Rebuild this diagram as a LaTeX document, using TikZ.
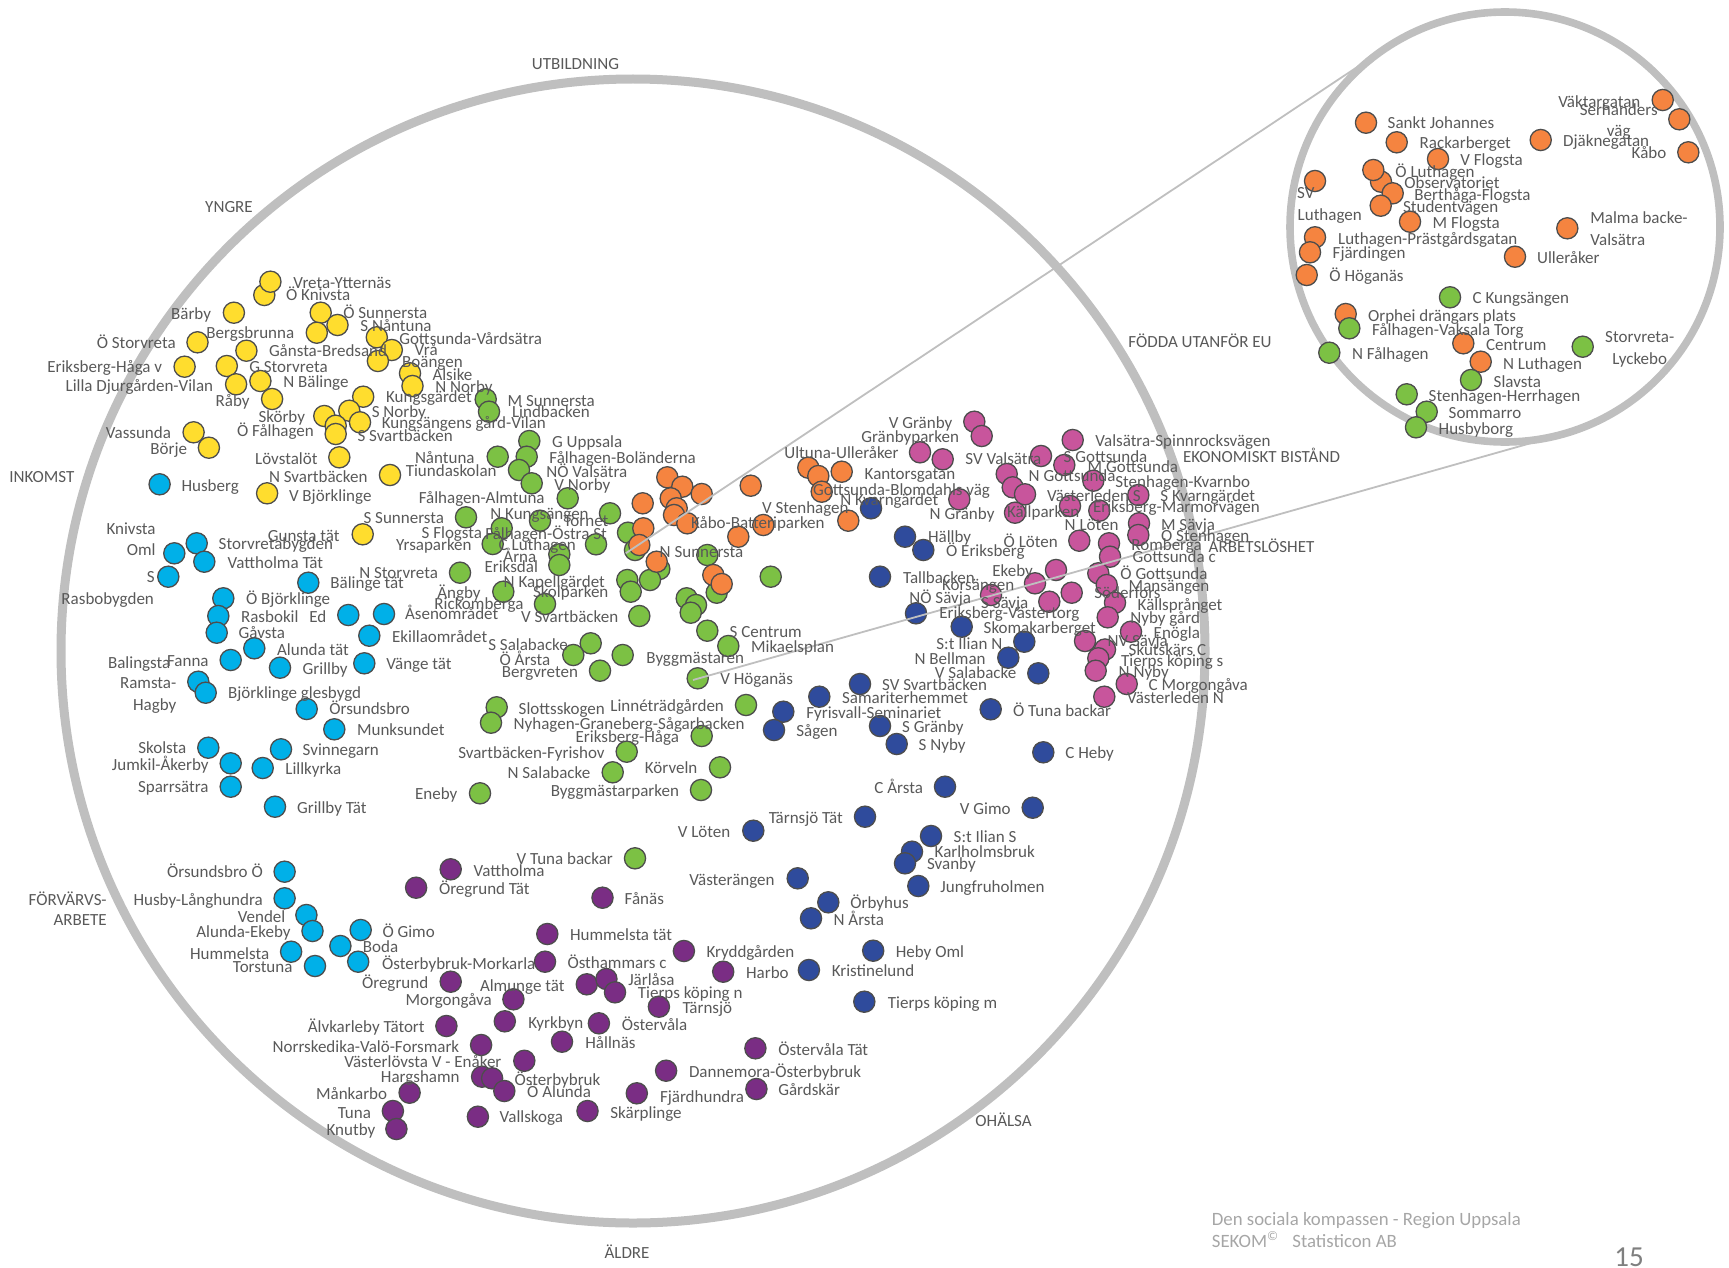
\documentclass[tikz,border=0pt]{standalone}
\usepackage{fontspec}
\setmainfont{Carlito}
\definecolor{cY}{HTML}{FFDD2E}
\definecolor{cC}{HTML}{00B0E8}
\definecolor{cG}{HTML}{7CC144}
\definecolor{cO}{HTML}{F58440}
\definecolor{cB}{HTML}{2F4B9C}
\definecolor{cK}{HTML}{C8559C}
\definecolor{cP}{HTML}{7A2D84}
\definecolor{cBd}{HTML}{4D4D4D}
\definecolor{cTx}{HTML}{595959}
\definecolor{cRing}{HTML}{BFBFBF}
\definecolor{cFoot}{HTML}{A6A6A6}
\definecolor{cNum}{HTML}{7F7F7F}
\begin{document}
\begin{tikzpicture}[x=0.5pt,y=-0.5pt,
  dot/.style={circle,draw=cBd,line width=0.65pt,minimum size=10.6pt,inner sep=0pt},
  lbl/.style={inner sep=0pt,text=cTx,font=\fontsize{8.5}{10}\selectfont,text height=5.6pt,text depth=0pt},
  ring/.style={draw=cRing,line width=4.5pt},
  zring/.style={draw=cRing,line width=3.8pt},
  zline/.style={draw=cRing,line width=0.9pt},
  foot/.style={inner sep=0pt,text=cFoot,font=\fontsize{9.4}{11}\selectfont,anchor=west,text height=6pt,text depth=0pt}]
\useasboundingbox (0,0) rectangle (1729,1268);

% rings
\coordinate (bigc) at (633,651);
\coordinate (zc) at (1505,227);
\draw[ring] (bigc) circle[radius=572];
\draw[zring] (zc) circle[radius=215];

% yellow
\foreach \x/\y [count=\i] in {264.3/295, 270.4/281.7, 233.9/312.7, 320.7/312.7, 337.5/325, 316.8/332.7, 197.5/342.3, 246.4/350.7, 376.8/337.3, 391.8/350, 377.9/361, 184.6/366.7, 226.8/366, 410/373.3, 412.5/386, 236.1/384.3, 260.4/381, 272.1/399, 363.2/396.7, 349.3/410.7, 324.3/416, 360/422.3, 335.7/425.7, 335.7/434, 193.6/432.3, 208.9/447.7, 339.3/457.3, 390/475, 267.1/493.3, 362.7/534.3}
  \node[dot,fill=cY] (dy\i) at (\x,\y) {};
% cyan
\foreach \x/\y [count=\i] in {159.6/484.3, 196.7/543.3, 174.3/553.3, 204.3/561.7, 168.3/576.7, 308.3/582.7, 223.3/598.3, 218.3/616, 348.3/615, 384/614, 216.7/632.7, 369.3/635.7, 254.3/648.3, 230.7/660, 280/667.7, 364.3/663.3, 198.3/681.7, 205.7/692.7, 306.7/709, 334.3/729.3, 208.3/747.7, 281/749.3, 230.7/763.3, 262.7/768, 230.7/786.7, 275/806.7, 284.6/871.7, 284.6/898.3, 306.4/915, 312.5/931, 360.7/930, 340.4/946, 291.1/951.7, 358.2/961.7, 315/966}
  \node[dot,fill=cC] (dc\i) at (\x,\y) {};
% green
\foreach \x/\y [count=\i] in {485.7/399.3, 489/411.7, 529.3/441, 526.7/456.7, 497.7/456.7, 519/470, 531.7/483.3, 567.7/498.3, 466/517.3, 540/520.7, 501.7/528.3, 492.7/544, 610/513.3, 596/544.3, 559.3/554.3, 559.3/565, 460/572.7, 503.3/591.7, 545/604, 639.3/616, 590.7/643.3, 573.3/655, 600/670.7, 622.7/655, 707.3/630.7, 728.3/646, 697.7/678.3, 628/532.7, 635/550, 659.3/569, 650/580, 627.3/580, 630.7/591.7, 707.3/555, 716.7/592.7, 686.7/598.3, 696/605, 690.7/612.7, 770.7/576.7, 496.7/707.3, 491/722.7, 746/705, 701.7/736, 626.7/751.7, 612.7/772.3, 720/767.3, 701/790, 480/793.3, 635/858.3}
  \node[dot,fill=cG] (dg\i) at (\x,\y) {};
% orange
\foreach \x/\y [count=\i] in {667.3/477.3, 682.3/486.7, 701.7/494, 750.7/485.7, 670.7/498.3, 642.7/503.3, 676.7/508.3, 674/515, 687.3/523.3, 643.3/528.3, 639.3/545, 738.3/536.7, 763.3/525, 656.7/561.7, 713.3/575, 721.7/584, 808.3/467.7, 818.3/476, 841.7/471.7, 821.7/491.7, 848.3/520.7}
  \node[dot,fill=cO] (do\i) at (\x,\y) {};
% dark blue
\foreach \x/\y [count=\i] in {871/508.3, 905/536.7, 923.3/550, 880/576.7, 916/613.3, 961.7/626.7, 1024.3/641.7, 1008.3/657.7, 1038.3/673.3, 860/684, 819.3/696.7, 783.3/711.7, 774/730, 990.7/709.3, 880/726, 896.7/744, 1043.3/752.3, 945/786.7, 1032.7/807.7, 865/816.7, 753.3/830.7, 931/836, 912/851.7, 905/863.3, 918.3/886, 797.7/878.3, 828.3/902.3, 811/918.3, 873.2/950.7, 808.9/970, 864.3/1001.7}
  \node[dot,fill=cB] (db\i) at (\x,\y) {};
% pink
\foreach \x/\y [count=\i] in {974.3/421.7, 981.7/436, 920/452.3, 942.7/459.3, 1072.7/440, 1041/456, 1064.3/465, 1006.7/474, 1093.3/480.7, 1012.7/487.3, 1025/494.3, 1138.3/495, 959.3/499.3, 1070/506, 1099.3/510.7, 1015/512.7, 1139/523.3, 1138.3/535, 1079.3/540.7, 1109/543.3, 1110/556.7, 1056/570, 1098.3/573.3, 1035/583.3, 1106.7/585, 1071.7/592.7, 991/595, 1049.3/601.7, 1115/602.7, 1107.7/617.3, 1131/631.7, 1085/641, 1105/649.5, 1098.3/658.3, 1095.7/670.7, 1126.7/684, 1104.3/696.7}
  \node[dot,fill=cK] (dk\i) at (\x,\y) {};
% purple
\foreach \x/\y [count=\i] in {450.7/869.3, 416.1/887.7, 602.5/897.7, 547.3/934, 545/961.7, 683.9/951, 723.2/971.7, 450.7/981.7, 586.8/984.3, 606.4/979, 615/992.3, 513.4/999.3, 504.8/1021.3, 446.4/1026, 658.9/1006.7, 598.9/1023.3, 562/1041.7, 481.1/1045, 755.4/1048.3, 524.3/1060.8, 666.1/1070.7, 482.1/1076.7, 492.1/1078.3, 504.3/1091, 756.4/1089, 636.8/1093.3, 409.6/1092.7, 392.9/1111, 396.4/1129, 477.9/1116.7, 587.5/1111}
  \node[dot,fill=cP] (dp\i) at (\x,\y) {};
% zoom circle dots
\foreach \x/\y [count=\i] in {1366/122.7, 1396.7/142.3, 1438/159, 1540.7/140, 1662.7/100, 1679.3/119.3, 1688.3/152.3, 1315/181, 1381/181.7, 1373.3/170, 1392.7/193.3, 1380.7/205.7, 1410/221.7, 1567.3/228.3, 1315/237.3, 1310/252.3, 1515/256.7, 1306.7/275, 1345.7/314, 1463.3/343.3, 1480.7/361.7}
  \node[dot,fill=cO] (dzo\i) at (\x,\y) {};
\foreach \x/\y [count=\i] in {1450/297.3, 1349.3/328.3, 1329.3/352.7, 1582.7/346.7, 1471/380, 1406.7/394.3, 1426.7/411.7, 1416/427.3}
  \node[dot,fill=cG] (dzg\i) at (\x,\y) {};

% connectors to the zoom circle
\coordinate (p1) at (625.7,553.3);
\coordinate (t1) at (1386.0,47.9);
\coordinate (p2) at (693,680);
\coordinate (t2) at (1563.5,433.9);
\draw[zline] (p1) -- (t1);
\draw[zline] (p2) -- (t2);

% labels
\foreach \x/\y/\a/\t [count=\i] in {
292.9/283.3/west/Vreta-Ytternäs, 285.7/295/west/Ö Knivsta, 211.4/314/east/Bärby, 342.9/313.3/west/Ö Sunnersta, 360/326/west/S Nåntuna, 294.6/333.3/east/Bergsbrunna, 176.1/343.3/east/Ö Storvreta, 268.6/350.7/west/Gånsta-Bredsand, 398.9/339/west/Gottsunda-Vårdsätra, 414.3/350/west/Vrå, 401.8/361.7/west/Boängen, 162.5/367.3/east/Eriksberg-Håga v, 248.9/366.7/west/G Storvreta, 432.1/375/west/Alsike, 435/387.3/west/N Norby, 213.6/386/east/Lilla Djurgården-Vilan, 282.9/382/west/N Bälinge, 250/400.7/east/Råby, 385.7/396.7/west/Kungsgärdet, 371.4/411.7/west/S Norby, 305.4/417.3/east/Skörby, 381.4/423.3/west/Kungsängens gård-Vilan, 314.3/430.7/east/Ö Fålhagen, 357.1/436/west/S Svartbäcken, 171.4/433.3/east/Vassunda, 187.5/449/east/Börje, 317.9/459/east/Lövstalöt, 405.4/470.7/west/Tiundaskolan, 268.6/477/west/N Svartbäcken, 288.6/495.7/west/V Björklinge, 340/535.7/east/Gunsta tät, 181.1/486/west/Husberg}
  \node[lbl,anchor=\a] (ly\i) at (\x,\y) {\t};
\foreach \x/\y/\a/\t [count=\i] in {
218.3/544.3/west/Storvretabygden, 156/529/east/Knivsta, 156/550/east/Oml, 227.3/562.7/west/Vattholma Tät, 155/577.3/east/S, 154.3/599/east/Rasbobygden, 330/583.3/west/Bälinge tät, 245.7/599.3/west/Ö Björklinge, 240.7/616.7/west/Rasbokil, 326.7/616.7/east/Ed, 404.7/614.2/west/Åsenområdet, 238.3/633.3/west/Gåvsta, 391.7/636.7/west/Ekillaområdet, 276.7/650/west/Alunda tät, 209/661/east/Fanna, 170.7/662.7/east/Balingsta, 302.3/669/west/Grillby, 386/664.3/west/Vänge tät, 176.7/683.3/east/Ramsta-, 176.7/705/east/Hagby, 227.7/692.7/west/Björklinge glesbygd, 329/709.3/west/Örsundsbro, 356.7/730/west/Munksundet, 186.7/748.3/east/Skolsta, 302.3/750/west/Svinnegarn, 209/765/east/Jumkil-Åkerby, 285/768.7/west/Lillkyrka, 209/787.3/east/Sparrsätra, 296.7/807.7/west/Grillby Tät, 263.2/872.3/east/Örsundsbro Ö, 263.2/900/east/Husby-Långhundra, 285.7/917.3/east/Vendel, 291.1/931.7/east/Alunda-Ekeby, 382.1/931.7/west/Ö Gimo, 362.5/946.7/west/Boda, 269.6/954/east/Hummelsta, 292.9/967.3/east/Torstuna}
  \node[lbl,anchor=\a] (lc\i) at (\x,\y) {\t};
\foreach \x/\y/\a/\t [count=\i] in {
507.3/400.7/west/M Sunnersta, 511.7/411.7/west/Lindbacken, 551.7/442.3/west/G Uppsala, 549/457.7/west/Fålhagen-Boländerna, 475/457.7/east/Nåntuna, 546/471.7/west/NÖ Valsätra, 554/485/west/V Norby, 545/498.3/east/Fålhagen-Almtuna, 490/514/west/N Kungsängen, 444.4/518.3/east/S Sunnersta, 563.3/520.7/west/Tornet, 485/533.5/west/Fålhagen-Östra St, 482.5/533/east/S Flogsta, 472/544.7/east/Yrsaparken, 498.3/545/west/C Luthagen, 536.7/556.7/east/Årna, 538.3/566.7/east/Eriksdal, 438.3/573.3/east/N Storvreta, 503.3/581.7/west/N Kapellgärdet, 481/592.7/east/Ängby, 532.6/592.2/west/Skolparken, 523.8/604.3/east/Rickomberga, 618.6/616.4/east/V Svartbäcken, 568.3/645/east/S Salabacke, 550.7/660/east/Ö Årsta, 578.3/671.7/east/Bergvreten, 646/658/west/Byggmästaren, 729.3/632.3/west/S Centrum, 750.7/647.3/west/Mikaelsplan, 720/679/west/V Höganäs, 518.3/709/west/Slottsskogen, 513.3/724/west/Nyhagen-Graneberg-Sågarbacken, 724.3/706/east/Linnéträdgården, 679.3/737.3/east/Eriksberg-Håga, 605/753.3/east/Svartbäcken-Fyrishov, 590.7/772.7/east/N Salabacke, 697.7/767.7/east/Körveln, 679.3/791/east/Byggmästarparken, 457.7/794.3/east/Eneby, 613.3/859.3/east/V Tuna backar}
  \node[lbl,anchor=\a] (lg\i) at (\x,\y) {\t};
\foreach \x/\y/\a/\t [count=\i] in {
784/452.7/west/Ultuna-Ulleråker, 864.3/474/west/Kantorsgatan, 812.7/490/west/Gottsunda-Blomdahls väg, 761.7/508.3/west/V Stenhagen, 690.7/522.7/west/Kåbo-Batteriparken, 659.3/551.7/west/N Sunnersta}
  \node[lbl,anchor=\a] (lo\i) at (\x,\y) {\t};
\foreach \x/\y/\a/\t [count=\i] in {
840/500/west/N Kvarngärdet, 927.7/537.3/west/Hällby, 945.7/551/west/Ö Eriksberg, 902.7/577.7/west/Tallbacken, 909/597.7/west/NÖ Sävja, 939/613.3/west/Eriksberg-Västertorg, 983.3/628.3/west/Skomakarberget, 1002.7/644/east/S:t Ilian N, 986/659/east/N Bellman, 1016.7/673.3/east/V Salabacke, 881.7/684.5/west/SV Svartbäcken, 841.7/698.3/west/Samariterhemmet, 806/712.7/west/Fyrisvall-Seminariet, 796/731/west/Sågen, 1012.7/710.5/west/Ö Tuna backar, 901.7/727.3/west/S Gränby, 918.3/745/west/S Nyby, 1065/753.3/west/C Heby, 923.3/787.7/east/C Årsta, 1011/809/east/V Gimo, 843.3/818.3/east/Tärnsjö Tät, 730.7/831.7/east/V Löten, 953.3/836.7/west/S:t Ilian S, 934.3/852.3/west/Karlholmsbruk, 926.7/864.3/west/Svanby, 940/887/west/Jungfruholmen, 775/880/east/Västerängen, 850/903.3/west/Örbyhus, 833.2/920/west/N Årsta, 895.4/951.7/west/Heby Oml, 831.4/971/west/Kristinelund, 887.5/1003.3/west/Tierps köping m}
  \node[lbl,anchor=\a] (lb\i) at (\x,\y) {\t};
\foreach \x/\y/\a/\t [count=\i] in {
952.7/422.7/east/V Gränby, 959.3/437.3/east/Gränbyparken, 965/459.3/west/SV Valsätra, 1095/441/west/Valsätra-Spinnrocksvägen, 1063.3/456.7/west/S Gottsunda, 1087.3/467.3/west/M Gottsunda, 1028.3/475.7/west/N Gottsunda, 1115/481.7/west/Stenhagen-Kvarnbo, 1046.7/496/west/Västerleden S, 1160/496/west/S Kvarngärdet, 1092.7/506.7/west/Eriksberg-Marmorvägen, 929.3/514/west/N Gränby, 1006.7/511.7/west/Källparken, 1160.7/525/west/M Sävja, 1160.7/536/west/Ö Stenhagen, 1064.3/525/west/N Löten, 1003.3/541.7/west/Ö Löten, 1131/545/west/Romberga, 1132.3/557.3/west/Gottsunda c, 1033.3/570.7/east/Ekeby, 1120/574/west/Ö Gottsunda, 1128.3/586/west/Mansängen, 941.7/585/west/Korsängen, 980.7/603.3/west/S Sävja, 1094/593.3/west/Söderfors, 1137.3/605/west/Källsprånget, 1130/618.3/west/Nyby gård, 1153.3/633.3/west/Enögla, 1107.3/640.7/west/NV Sävja, 1128.3/650/west/Skutskärs C, 1120.7/660.7/west/Tierps köping s, 1118.3/671.7/west/N Nyby, 1148.3/685/west/C Morgongåva, 1126.7/698.3/west/Västerleden N}
  \node[lbl,anchor=\a] (lk\i) at (\x,\y) {\t};
\foreach \x/\y/\a/\t [count=\i] in {
473.2/870.7/west/Vattholma, 438.6/889/west/Öregrund Tät, 624.3/899/west/Fånäs, 569.6/935/west/Hummelsta tät, 535.7/964/east/Österbybruk-Morkarla, 567.1/963.3/west/Östhammars c, 706.1/952.3/west/Kryddgården, 745.7/973.3/west/Harbo, 428.6/982.7/east/Öregrund, 627.9/980/west/Järlåsa, 637.5/993.3/west/Tierps köping n, 492.1/1000/east/Morgongåva, 479.6/985.7/west/Almunge tät, 527.9/1022.7/west/Kyrkbyn, 425/1027.3/east/Älvkarleby Tätort, 682.1/1008.3/west/Tärnsjö, 621.4/1025/west/Östervåla, 585/1043.3/west/Hållnäs, 459.6/1046.7/east/Norrskedika-Valö-Forsmark, 777.9/1050/west/Östervåla Tät, 501.8/1061.7/east/Västerlövsta V - Enåker, 688.6/1071.7/west/Dannemora-Österbybruk, 460/1077.3/east/Hargshamn, 514.3/1080/west/Österbybruk, 526.8/1091.7/west/Ö Alunda, 777.9/1090/west/Gårdskär, 659.6/1096.7/west/Fjärdhundra, 387.5/1094/east/Månkarbo, 371.4/1113.3/east/Tuna, 375.7/1130/east/Knutby, 499.3/1117.3/west/Vallskoga, 610/1113.3/west/Skärplinge}
  \node[lbl,anchor=\a] (lp\i) at (\x,\y) {\t};
\foreach \x/\y/\a/\t [count=\i] in {
1387.3/122.7/west/Sankt Johannes, 1419.3/142.7/west/Rackarberget, 1460/160/west/V Flogsta, 1562.7/141/west/Djäknegatan, 1640.7/101.7/east/Väktargatan, 1618.7/110/center/Serhanders, 1618.7/130.7/center/väg, 1666.7/153.3/east/Kåbo, 1296.7/193.3/west/SV, 1297.3/215/west/Luthagen, 1395/171.7/west/Ö Luthagen, 1404/182.7/west/Observatoriet, 1414/195/west/Berthåga-Flogsta, 1402.7/206.7/west/Studentvägen, 1432.3/223.3/west/M Flogsta, 1590/218.3/west/Malma backe-, 1590/240/west/Valsätra, 1337.7/239/west/Luthagen-Prästgårdsgatan, 1332.3/253.3/west/Fjärdingen, 1536.7/258.3/west/Ulleråker, 1329/276/west/Ö Höganäs, 1472.3/298.3/west/C Kungsängen, 1367.7/316/west/Orphei drängars plats, 1371.7/330/west/Fålhagen-Vaksala Torg, 1351.7/354/west/N Fålhagen, 1485.7/345/west/Centrum, 1502.7/364/west/N Luthagen, 1639.7/337.3/center/Storvreta-, 1639.7/359.3/center/Lyckebo, 1493.3/381.7/west/Slavsta, 1428.3/395.7/west/Stenhagen-Herrhagen, 1448.3/412.7/west/Sommarro, 1438.3/429.3/west/Husbyborg}
  \node[lbl,anchor=\a] (lz\i) at (\x,\y) {\t};

% axis labels
\foreach \x/\y/\a/\t [count=\i] in {
575.5/64/center/UTBILDNING, 229/207/center/YNGRE, 8.9/476.7/west/INKOMST, 1200/342/center/FÖDDA UTANFÖR EU, 1182.7/456.7/west/EKONOMISKT BISTÅND, 1208.3/546.7/west/ARBETSLÖSHET, 975/1120.7/west/OHÄLSA, 627/1253/center/ÄLDRE, 107.1/900/east/FÖRVÄRVS-, 107.1/920/east/ARBETE}
  \node[lbl,anchor=\a] (ax\i) at (\x,\y) {\t};

% footer
\node[foot] (ft1) at (1211.5,1219.3) {Den sociala kompassen - Region Uppsala};
\node[foot] (ft2) at (1211.5,1241.7) {SEKOM\textsuperscript{©}};
\node[foot] (ft3) at (1292,1241.7) {Statisticon AB};
\node[inner sep=0pt,text=cNum,font=\fontsize{14.5}{16}\selectfont,anchor=base west] (pg) at (1614,1266.6) {15};
\end{tikzpicture}
\end{document}
